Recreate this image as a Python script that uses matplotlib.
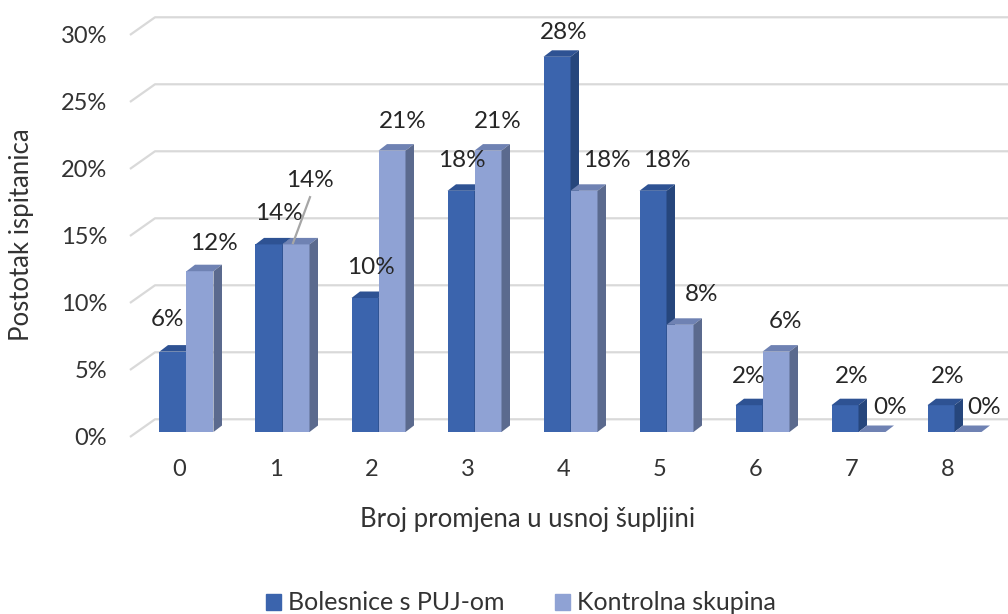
import matplotlib.pyplot as plt
from matplotlib.patches import Polygon, Patch

# data (percent of respondents)
categories = ['0', '1', '2', '3', '4', '5', '6', '7', '8']
bolesnice = [6, 14, 10, 18, 28, 18, 2, 2, 2]
kontrola = [12, 14, 21, 21, 18, 8, 6, 0, 0]
y_ticks = [0, 5, 10, 15, 20, 25, 30]
series_names = ['Bolesnice s PUJ-om', 'Kontrolna skupina']

# colours: front, top, side
dark = ('#3B64AD', '#2E5293', '#26467C')
light = ('#8FA2D4', '#6F82B3', '#5B6A8E')
grid_col = '#D9D9D9'
txt_col = '#333333'
font = 'Lato'

# geometry (1 x unit = one category, 1 y unit = one percent)
PX_X, PX_Y = 96.0, 13.4          # pixels per unit
bw = 27.0 / PX_X                 # bar width
ddx, ddy = 8.5 / PX_X, 6.5 / PX_Y  # bar depth
front_dx, front_dy = -0.589, -0.37
back_dx, back_dy = -0.328, 0.95

# label nudges in pixels (layout only)
dark_lx = [-5, 10, 6, 1, 7, 14, 0, 7, 7]
dark_ly = [32, 31, 30, 30, 24, 30, 29, 29, 29]
light_lx = [14, 14, 11, 10, 23, 22, 10, 18, 16]
light_ly = [28, 64, 29, 29, 30, 30, 30, 24, 24]

fig = plt.figure(figsize=(10.08, 6.14), dpi=100)
ax = fig.add_axes([0, 0, 1, 1])
ax.set_xlim(-186.5 / PX_X, (1008 - 186.5) / PX_X)
ax.set_ylim((432 - 614) / PX_Y, 432 / PX_Y)
ax.axis('off')

# back wall + side wall gridlines
for t in y_ticks:
    ax.plot([front_dx, back_dx, 9.0], [t + front_dy, t + back_dy, t + back_dy],
            color=grid_col, lw=1.6, zorder=1, solid_capstyle='butt')
    ax.text(front_dx - 23 / PX_X, t + front_dy - 0.15, f'{t}%', ha='right', va='center',
            fontsize=17, color=txt_col, family=font)


def bar3d(x0, v, cols, z):
    x1 = x0 + bw
    ax.bar(x0, v, width=bw, align='edge', color=cols[0], zorder=z, lw=0)
    ax.add_patch(Polygon([(x0, v), (x1, v), (x1 + ddx, v + ddy), (x0 + ddx, v + ddy)],
                         closed=True, fc=cols[1], lw=0, zorder=z))
    if v > 0:
        ax.add_patch(Polygon([(x1, 0), (x1, v), (x1 + ddx, v + ddy), (x1 + ddx, ddy)],
                             closed=True, fc=cols[2], lw=0, zorder=z))


for i, (a, b) in enumerate(zip(bolesnice, kontrola)):
    bar3d(i - bw, a, dark, 2 + 2 * i)
    bar3d(i, b, light, 3 + 2 * i)

# data labels
for i, (a, b) in enumerate(zip(bolesnice, kontrola)):
    xa = i - bw / 2 + dark_lx[i] / PX_X
    ax.text(xa, a + dark_ly[i] / PX_Y, f'{a}%', ha='center', va='center',
            fontsize=17.5, color='#262626', family=font, zorder=30)
    xb = i + bw / 2 + light_lx[i] / PX_X
    yb = b + light_ly[i] / PX_Y
    ax.text(xb, yb, f'{b}%', ha='center', va='center',
            fontsize=17.5, color='#262626', family=font, zorder=30)
    if light_ly[i] > 40:
        ax.plot([xb, i + bw / 2 - 3 / PX_X], [yb - 1.25, b + 0.1],
                color='#A6A6A6', lw=1.6, zorder=31)

# category labels
for i, c in enumerate(categories):
    ax.text(i - 7 / PX_X, -38 / PX_Y, c, ha='center', va='center',
            fontsize=17, color=txt_col, family=font)

fig.text(528 / 1008, 1 - 519 / 614, 'Broj promjena u usnoj šupljini',
         ha='center', va='center', fontsize=18.5, color=txt_col, family=font)
fig.text(22 / 1008, 1 - 235 / 614, 'Postotak ispitanica', rotation=90,
         ha='center', va='center', fontsize=18.5, color=txt_col, family=font)

handles = [Patch(color=dark[0]), Patch(color=light[0])]
fig.legend(handles, series_names, loc='center', bbox_to_anchor=(521 / 1008, 1 - 603 / 614),
           ncol=2, frameon=False, handlelength=0.6, handleheight=0.6, handletextpad=0.3,
           columnspacing=2.0, prop={'family': font, 'size': 18}, labelcolor=txt_col)

fig.savefig('out.png', dpi=100)
